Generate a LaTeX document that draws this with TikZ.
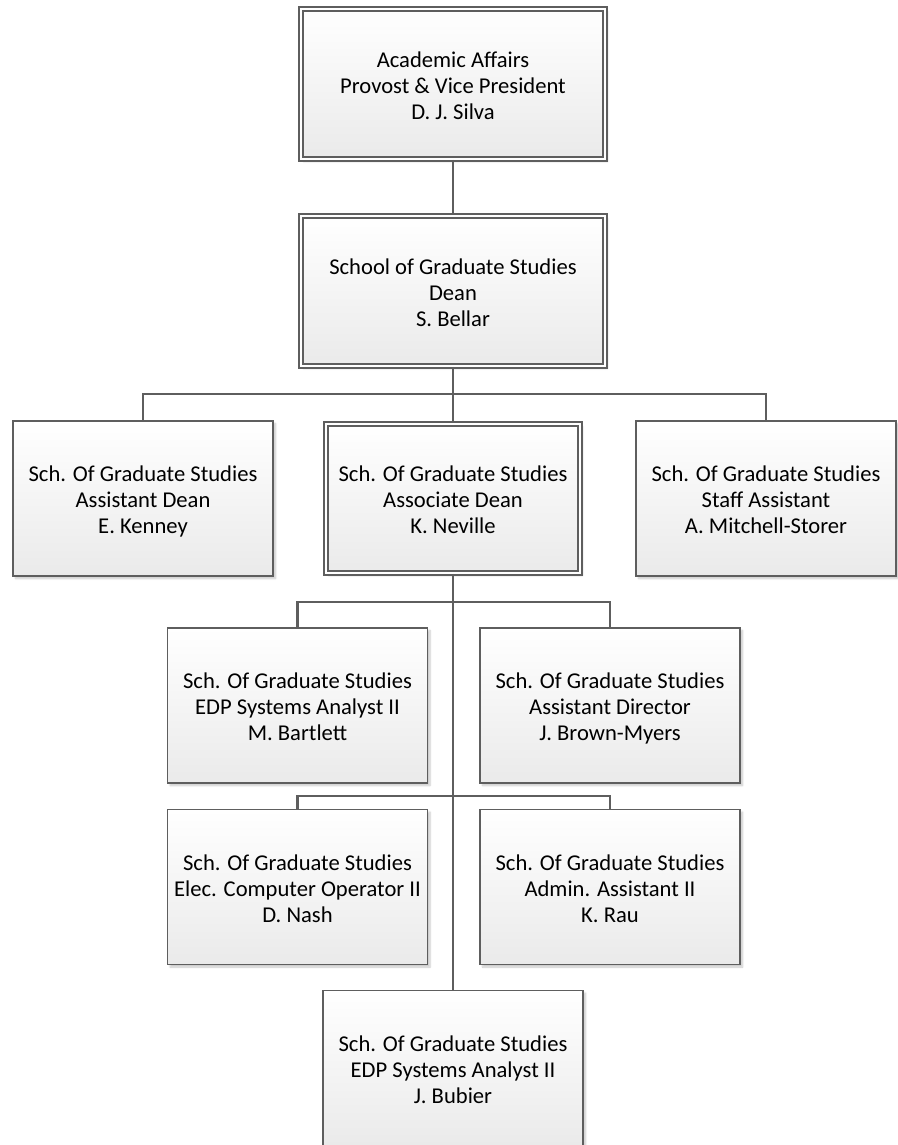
\documentclass[tikz,border=0pt]{standalone}
\usepackage{fontspec}
\setmainfont{Carlito}
\usetikzlibrary{shadows.blur}
\definecolor{edge}{HTML}{5E5E5E}
\definecolor{fillbot}{HTML}{EAEAEA}
% three centred lines, set a little below the middle of the card
\newcommand\cardtext[3]{\raisebox{-4pt}[\height][\depth]{\begin{tabular}{@{}c@{}}#1\\#2\\#3\end{tabular}}}
\begin{document}
\begin{tikzpicture}[x=1pt,y=-1pt,
  orgbox/.style={rectangle, draw=edge, line width=1.8pt, top color=white, bottom color=fillbot,
    minimum width=260pt, minimum height=155pt, inner sep=0pt,
    font=\fontsize{22.6}{26}\selectfont,
    blur shadow={shadow xshift=2.5pt, shadow yshift=-2.5pt, shadow blur steps=6, shadow opacity=22}},
  headbox/.style={orgbox, double=white, double distance=2.4pt},
  link/.style={draw=edge, line width=2.2pt}]
\useasboundingbox (0,0) rectangle (897,1145);

% executive chain
\node[headbox, minimum width=304pt, minimum height=150pt] (provost) at (453,84)
  {\cardtext{Academic Affairs}{Provost \& Vice President}{D. J. Silva}};
\node[headbox, minimum width=304pt, minimum height=150pt] (dean) at (453,291)
  {\cardtext{School of Graduate Studies}{Dean}{S. Bellar}};

% deans' level
\node[orgbox] (kenney) at (143,498.5)
  {\cardtext{Sch. Of Graduate Studies}{Assistant Dean}{E. Kenney}};
\node[headbox, minimum width=254pt, minimum height=149pt] (neville) at (453,498.5)
  {\cardtext{Sch. Of Graduate Studies}{Associate Dean}{K. Neville}};
\node[orgbox] (storer) at (766,498.5)
  {\cardtext{Sch. Of Graduate Studies}{Staff Assistant}{A. Mitchell-Storer}};

% staff reporting to the associate dean
\node[orgbox] (bartlett) at (297.5,705.5)
  {\cardtext{Sch. Of Graduate Studies}{EDP Systems Analyst II}{M. Bartlett}};
\node[orgbox] (brown) at (610,705.5)
  {\cardtext{Sch. Of Graduate Studies}{Assistant Director}{J. Brown-Myers}};
\node[orgbox] (nash) at (297.5,887)
  {\cardtext{Sch. Of Graduate Studies}{Elec. Computer Operator II}{D. Nash}};
\node[orgbox] (rau) at (610,887)
  {\cardtext{Sch. Of Graduate Studies}{Admin. Assistant II}{K. Rau}};
\node[orgbox] (bubier) at (453,1068)
  {\cardtext{Sch. Of Graduate Studies}{EDP Systems Analyst II}{J. Bubier}};

% bus lines
\coordinate (busA) at (453,394);
\coordinate (busB) at (453,602);
\coordinate (busC) at (453,796);

% connectors
\draw[link] (provost.south) -- (dean.north);
\draw[link] (dean.south) -- (neville.north);
\draw[link] (kenney.north) |- (busA) -| (storer.north);
\draw[link] (neville.south) -- (bubier.north);
\draw[link] (bartlett.north) |- (busB) -| (brown.north);
\draw[link] (nash.north) |- (busC) -| (rau.north);
\end{tikzpicture}
\end{document}
